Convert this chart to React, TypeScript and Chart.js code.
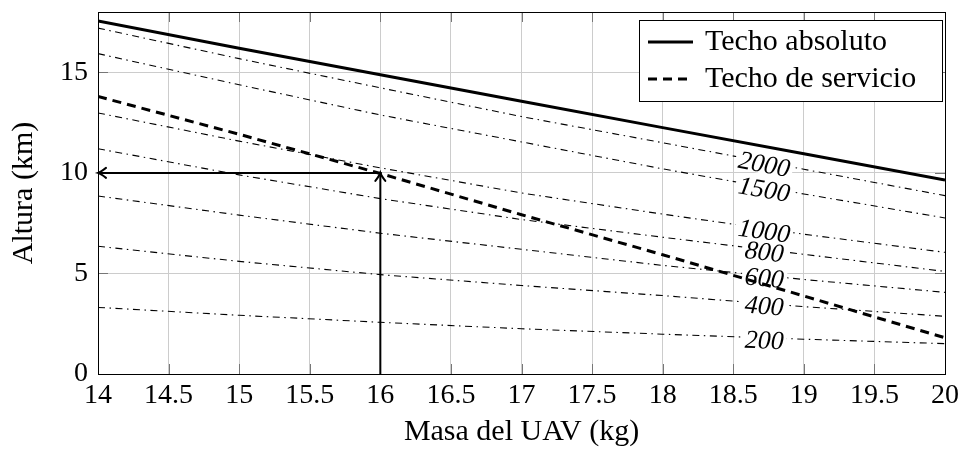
import { useEffect, useRef } from 'react';
import { Chart, registerables } from 'chart.js';

Chart.register(...registerables);

// UAV mass (kg) at which each ceiling curve is sampled
const MASS_KG = [14, 15, 16, 17, 18, 19, 20];

// Ceilings (km)
const ABSOLUTE_CEILING = [17.55, 16.2, 14.88, 13.56, 12.25, 10.95, 9.65];
const SERVICE_CEILING = [13.8, 11.92, 9.97, 7.92, 5.93, 3.88, 1.8];

// Constant rate-of-climb curves (km), labelled by their rate
const CLIMB_LABELS = ['2000', '1500', '1000', '800', '600', '400', '200'];
const CLIMB_2000 = [17.2, 15.68, 14.23, 12.8, 11.5, 10.18, 8.87];
const CLIMB_1500 = [15.93, 14.38, 12.88, 11.54, 10.2, 8.95, 7.76];
const CLIMB_1000 = [12.98, 11.58, 10.25, 9.0, 7.95, 6.95, 6.05];
const CLIMB_800 = [11.2, 9.9, 8.72, 7.68, 6.8, 5.95, 5.1];
const CLIMB_600 = [8.85, 7.9, 7.0, 6.2, 5.4, 4.7, 4.06];
const CLIMB_400 = [6.35, 5.6, 4.94, 4.4, 3.9, 3.35, 2.87];
const CLIMB_200 = [3.31, 2.92, 2.57, 2.25, 1.98, 1.73, 1.51];
const CLIMB_SERIES = [CLIMB_2000, CLIMB_1500, CLIMB_1000, CLIMB_800, CLIMB_600, CLIMB_400, CLIMB_200];
const CLIMB_LABEL_MASS = 18.72;

// Reading guide: from the mass up to the service ceiling, then across to the altitude axis
const GUIDE_MASS = [16, 16, 14];
const GUIDE_ALT = [0, 10, 10];

const X_TICKS = ['14', '14.5', '15', '15.5', '16', '16.5', '17', '17.5', '18', '18.5', '19', '19.5', '20'];
const Y_TICKS = ['0', '5', '10', '15'];

const LEGEND_LABELS = ['Techo absoluto', 'Techo de servicio'];
const X_TITLE = 'Masa del UAV (kg)';
const Y_TITLE = 'Altura (km)';

const SERIF = "'Liberation Serif', 'Times New Roman', serif";
const FIRST_CLIMB_INDEX = 3;
const SERVICE_DASH = [9, 6];
const DASH_DOT = [7, 4.5, 1.5, 4.5];

const toPoints = (xs: number[], ys: number[]) => xs.map((x, i) => ({ x, y: ys[i] }));

// Axis box and inward tick marks on all four sides
const framePlugin = {
  id: 'frame',
  beforeDatasetsDraw(chart: any) {
    const { ctx, chartArea: a, scales } = chart;
    ctx.save();
    ctx.strokeStyle = '#777';
    ctx.lineWidth = 1;
    const tl = 10;
    ctx.beginPath();
    scales.x.ticks.forEach((t: any) => {
      const px = Math.round(scales.x.getPixelForValue(t.value)) + 0.5;
      ctx.moveTo(px, a.top);
      ctx.lineTo(px, a.top + tl);
      ctx.moveTo(px, a.bottom);
      ctx.lineTo(px, a.bottom - tl);
    });
    scales.y.ticks.forEach((t: any) => {
      const py = Math.round(scales.y.getPixelForValue(t.value)) + 0.5;
      ctx.moveTo(a.left, py);
      ctx.lineTo(a.left + tl, py);
      ctx.moveTo(a.right, py);
      ctx.lineTo(a.right - tl, py);
    });
    ctx.stroke();
    ctx.strokeStyle = '#000';
    ctx.strokeRect(Math.round(a.left) + 0.5, Math.round(a.top) + 0.5, Math.round(a.right - a.left), Math.round(a.bottom - a.top));
    ctx.restore();
  },
};

// Rate-of-climb labels sitting on their curves, drawn before the ceiling lines
const climbLabelPlugin = {
  id: 'climbLabels',
  afterDatasetDraw(chart: any, args: any) {
    if (args.index !== FIRST_CLIMB_INDEX) return;
    const { ctx, scales } = chart;
    const tx = scales.x.getPixelForValue(CLIMB_LABEL_MASS);
    ctx.save();
    ctx.font = `italic 26px ${SERIF}`;
    ctx.textAlign = 'center';
    ctx.textBaseline = 'alphabetic';
    CLIMB_LABELS.forEach((label, k) => {
      const pts = chart.getDatasetMeta(FIRST_CLIMB_INDEX + k).data;
      let j = 0;
      while (j < pts.length - 2 && pts[j + 1].x < tx) j++;
      const p0 = pts[j];
      const p1 = pts[j + 1];
      const f = (tx - p0.x) / (p1.x - p0.x);
      const ty = p0.y + f * (p1.y - p0.y);
      const ang = Math.atan2(p1.y - p0.y, p1.x - p0.x);
      const w = ctx.measureText(label).width;
      ctx.save();
      ctx.translate(tx, ty + 2);
      ctx.rotate(ang);
      ctx.fillStyle = '#fff';
      ctx.fillRect(-w / 2 - 3, -10, w + 6, 20);
      ctx.fillStyle = '#000';
      ctx.fillText(label, 0, 8.6);
      ctx.restore();
    });
    ctx.restore();
  },
};

// Arrowheads on the reading guide
const arrowPlugin = {
  id: 'guideArrows',
  afterDatasetsDraw(chart: any) {
    const { ctx, scales } = chart;
    const up = { x: scales.x.getPixelForValue(GUIDE_MASS[1]), y: scales.y.getPixelForValue(GUIDE_ALT[1]) };
    const left = { x: scales.x.getPixelForValue(GUIDE_MASS[2]), y: scales.y.getPixelForValue(GUIDE_ALT[2]) };
    ctx.save();
    ctx.strokeStyle = '#000';
    ctx.lineWidth = 2;
    ctx.lineCap = 'round';
    ctx.beginPath();
    ctx.moveTo(up.x - 5, up.y + 8);
    ctx.quadraticCurveTo(up.x - 1, up.y + 3, up.x, up.y);
    ctx.quadraticCurveTo(up.x + 1, up.y + 3, up.x + 5, up.y + 8);
    ctx.moveTo(left.x + 8, left.y - 5);
    ctx.quadraticCurveTo(left.x + 3, left.y - 1, left.x, left.y);
    ctx.quadraticCurveTo(left.x + 3, left.y + 1, left.x + 8, left.y + 5);
    ctx.stroke();
    ctx.restore();
  },
};

// Boxed legend in the upper-right corner of the plot
const legendBoxPlugin = {
  id: 'legendBox',
  afterDraw(chart: any) {
    const { ctx } = chart;
    const box = { x: 639.5, y: 20.5, w: 303, h: 81 };
    ctx.save();
    ctx.fillStyle = '#fff';
    ctx.fillRect(box.x, box.y, box.w, box.h);
    ctx.strokeStyle = '#000';
    ctx.lineWidth = 1;
    ctx.strokeRect(box.x, box.y, box.w, box.h);
    const rows = [42, 79];
    ctx.lineWidth = 3;
    rows.forEach((ry, i) => {
      ctx.setLineDash(i === 0 ? [] : SERVICE_DASH);
      ctx.beginPath();
      ctx.moveTo(648, ry);
      ctx.lineTo(693, ry);
      ctx.stroke();
    });
    ctx.setLineDash([]);
    ctx.fillStyle = '#000';
    ctx.font = `30px ${SERIF}`;
    ctx.textAlign = 'left';
    ctx.textBaseline = 'middle';
    LEGEND_LABELS.forEach((t, i) => ctx.fillText(t, 705, rows[i]));
    ctx.restore();
  },
};

export default function App() {
  const ref = useRef<HTMLCanvasElement | null>(null);

  useEffect(() => {
    document.body.style.margin = '0';
    if (!ref.current) return;

    const climbSets = CLIMB_SERIES.map((ys, k) => ({
      label: CLIMB_LABELS[k],
      data: toPoints(MASS_KG, ys),
      borderColor: '#000',
      borderWidth: 1.1,
      borderDash: DASH_DOT,
      pointRadius: 0,
      fill: false,
      tension: 0,
    }));

    const chart = new Chart(ref.current, {
      type: 'line',
      data: {
        datasets: [
          {
            label: LEGEND_LABELS[0],
            data: toPoints(MASS_KG, ABSOLUTE_CEILING),
            borderColor: '#000',
            borderWidth: 3,
            pointRadius: 0,
            tension: 0,
          },
          {
            label: LEGEND_LABELS[1],
            data: toPoints(MASS_KG, SERVICE_CEILING),
            borderColor: '#000',
            borderWidth: 3,
            borderDash: SERVICE_DASH,
            pointRadius: 0,
            tension: 0,
          },
          {
            label: 'guide',
            data: toPoints(GUIDE_MASS, GUIDE_ALT),
            borderColor: '#000',
            borderWidth: 2,
            pointRadius: 0,
            tension: 0,
          },
          ...climbSets,
        ],
      },
      options: {
        responsive: false,
        animation: false,
        events: [],
        layout: { autoPadding: false, padding: { top: 12, right: 15, left: 0, bottom: 0 } },
        plugins: {
          legend: { display: false },
          tooltip: { enabled: false },
        },
        scales: {
          x: {
            type: 'linear',
            min: 14,
            max: 20,
            ticks: {
              stepSize: 0.5,
              autoSkip: false,
              maxRotation: 0,
              padding: 5,
              color: '#000',
              font: { family: SERIF, size: 28 },
              callback: (v: any) => X_TICKS.find((t) => Number(t) === Number(v)) ?? '',
            },
            grid: { color: '#cccccc', lineWidth: 1, drawTicks: false },
            border: { display: false },
            title: {
              display: true,
              text: X_TITLE,
              color: '#000',
              font: { family: SERIF, size: 30 },
              padding: { top: 0, bottom: 0 },
            },
            afterFit: (s: any) => {
              s.height = 76;
              s.paddingLeft = 0;
              s.paddingRight = 0;
            },
          },
          y: {
            type: 'linear',
            min: 0,
            max: 18,
            ticks: {
              stepSize: 5,
              includeBounds: false,
              padding: 10,
              color: '#000',
              font: { family: SERIF, size: 28 },
              callback: (v: any) => Y_TICKS.find((t) => Number(t) === Number(v)) ?? '',
            },
            grid: { color: '#cccccc', lineWidth: 1, drawTicks: false },
            border: { display: false },
            title: {
              display: true,
              text: Y_TITLE,
              color: '#000',
              font: { family: SERIF, size: 30 },
              padding: { top: 6, bottom: 0 },
            },
            afterFit: (s: any) => {
              s.width = 98;
              s.paddingTop = 0;
              s.paddingBottom = 0;
            },
          },
        },
      },
      plugins: [framePlugin, climbLabelPlugin, arrowPlugin, legendBoxPlugin],
    } as any);

    return () => chart.destroy();
  }, []);

  return (
    <div style={{ width: 960, height: 450, background: '#fff' }}>
      <canvas ref={ref} width={960} height={450} />
    </div>
  );
}
